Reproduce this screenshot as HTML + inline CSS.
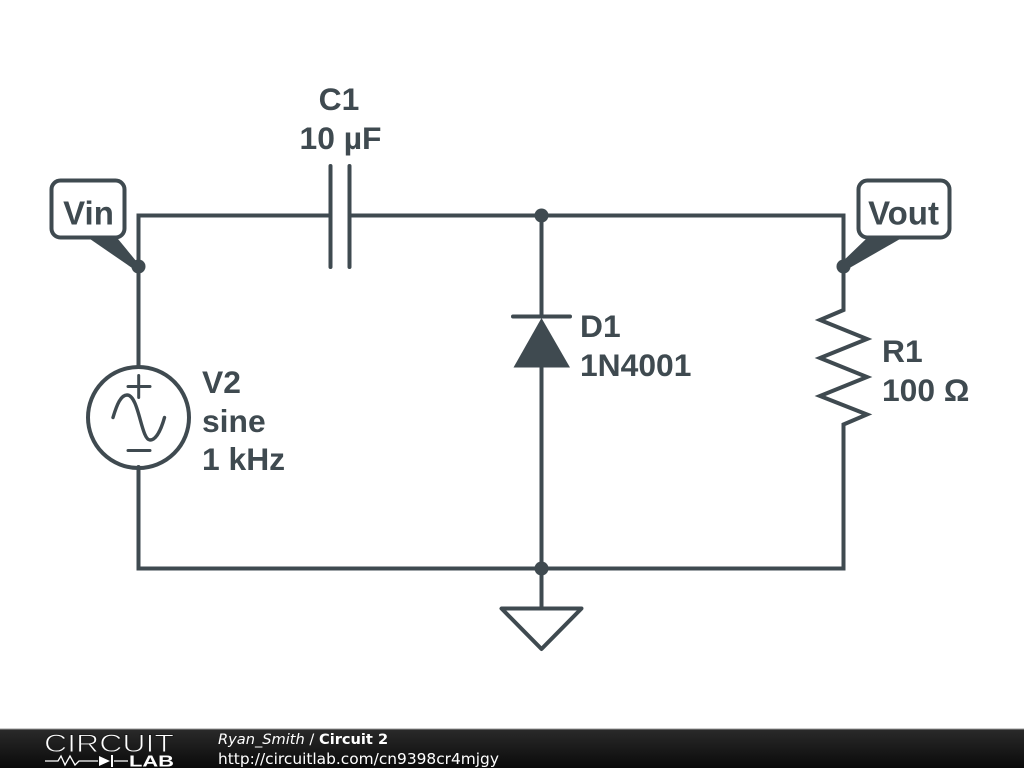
<!DOCTYPE html>
<html><head><meta charset="utf-8"><style>
html,body{margin:0;padding:0;background:#fff}
body{width:1024px;height:768px;overflow:hidden;position:relative}
svg{position:absolute;left:0;top:0}
.l{font:bold 31.800px "Liberation Sans",Arial,sans-serif;fill:#3f4a50}
.t{font:bold 33px "Liberation Sans",Arial,sans-serif;fill:#3f4a50}
.f{font:14.600px "DejaVu Sans",sans-serif;fill:#fff}
</style></head><body>
<svg width="1024" height="768" viewBox="0 0 1024 768">
<defs><linearGradient id="g" x1="0" y1="0" x2="0" y2="1"><stop offset="0" stop-color="#2a2a2a"/><stop offset="1" stop-color="#0a0a0a"/></linearGradient></defs>
<g fill="none" stroke="#3f4a50" stroke-width="4" stroke-linecap="round" stroke-linejoin="miter">
<path d="M138.500 367V215.500H330.500M349.500 215.500H843.500V310L820 320L867 339L820 358L867 377L820 396L867 414.500L843.500 424.500V568.500H138.500V467"/>
<path d="M330.500 166V267M349.500 166V267"/>
<path d="M541.500 215.500V316M541.500 366V608"/>
<path d="M513 316.500H570"/>
<circle cx="138.500" cy="417.500" r="50.500"/>
<path d="M128 386.500H150M138.700 375.500V397.500M128 450.500H150" stroke-width="3"/>
<path d="M113 417.500C117 404 121 395 127 395C139 395 141 440 150 440C156 440 161 430 164.500 417.500" stroke-width="3.400"/>
<path d="M501.500 608.500H581.500L541.500 649Z" stroke-linejoin="round"/>
<rect x="51.500" y="180.500" width="73" height="57" rx="9" fill="#fff"/>
<rect x="858.500" y="180.500" width="91" height="57" rx="9" fill="#fff"/>
</g>
<g fill="#3f4a50">
<path d="M513.500 367.500L541.500 318L570 367.500Z"/>
<path d="M90 239L118 239L141 267L135 270Z"/>
<path d="M866 239L900 239L846 270L840 264Z"/>
<circle cx="138.500" cy="266.500" r="7"/>
<circle cx="843.500" cy="266.500" r="7"/>
<circle cx="541.500" cy="215.500" r="7"/>
<circle cx="541.500" cy="568.500" r="7"/>
</g>
<text class="l" x="339" y="110" text-anchor="middle">C1</text>
<text class="l" x="340.500" y="149" text-anchor="middle">10 µF</text>
<text class="t" x="88.500" y="224.500" text-anchor="middle">Vin</text>
<text class="t" x="903.500" y="224.500" text-anchor="middle">Vout</text>
<text class="l" x="580" y="337">D1</text>
<text class="l" x="580" y="376">1N4001</text>
<text class="l" x="882" y="362">R1</text>
<text class="l" x="882" y="401">100 Ω</text>
<text class="l" x="202" y="393">V2</text>
<text class="l" x="202" y="432">sine</text>
<text class="l" x="202" y="470">1 kHz</text>
<rect x="0" y="729" width="1024" height="39" fill="url(#g)"/>
<rect x="0" y="728.500" width="1024" height="1" fill="#999"/>
<text x="44" y="752" textLength="130" lengthAdjust="spacingAndGlyphs" style="font:25px 'Liberation Sans',sans-serif;fill:#fff;stroke:#1c1c1c;stroke-width:.9px;paint-order:normal">CIRCUIT</text>
<path d="M45 761H58L61 756L65 765L70 756L75 765L79 761H98M114 761H128" fill="none" stroke="#fff" stroke-width="1.300"/>
<path d="M99 756L110 761L99 766Z M111 755H113V767H111Z" fill="#fff"/>
<text x="129" y="766.500" textLength="45" lengthAdjust="spacingAndGlyphs" style="font:bold 15.500px 'Liberation Sans',sans-serif;fill:#fff">LAB</text>
<text class="f" x="218" y="744"><tspan font-style="italic">Ryan_Smith</tspan> / <tspan font-weight="bold">Circuit 2</tspan></text>
<text x="218" y="764" style="font:15.400px 'DejaVu Sans',sans-serif;fill:#fff">http://circuitlab.com/cn9398cr4mjgy</text>
</svg>
</body></html>
